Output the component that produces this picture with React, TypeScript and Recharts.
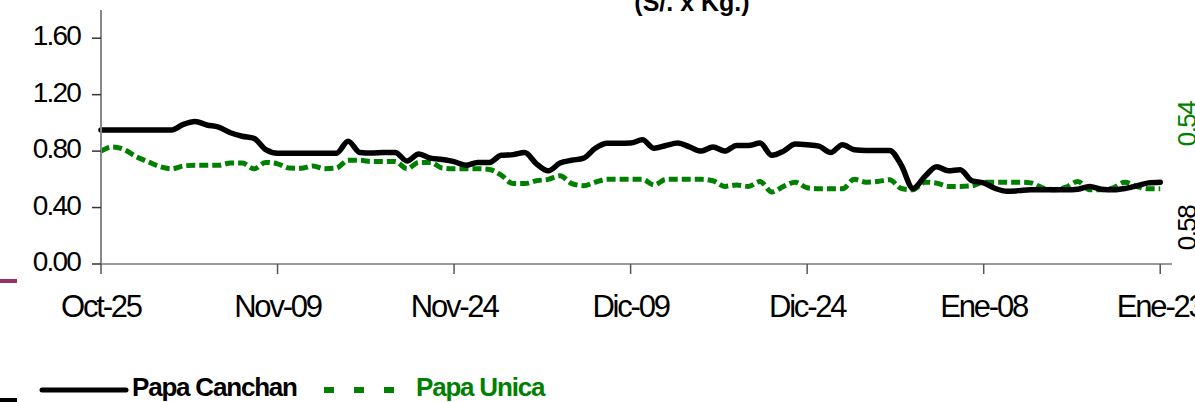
import { LineChart, Line, XAxis, YAxis } from "recharts";

const FONT = '"Liberation Sans", Arial, sans-serif';
const GREEN = "#008000";

// días desde Oct-25 (0) hasta Ene-23 (90), precio S/. x Kg.
const papaCanchan = [
  0.95, 0.95, 0.95, 0.95, 0.95, 0.95, 0.95, 0.99, 1.01, 0.985,
  0.97, 0.93, 0.905, 0.89, 0.81, 0.785, 0.785, 0.785, 0.785, 0.785,
  0.785, 0.87, 0.79, 0.786, 0.79, 0.79, 0.73, 0.78, 0.75, 0.74,
  0.725, 0.70, 0.72, 0.72, 0.77, 0.775, 0.79, 0.71, 0.66, 0.715,
  0.735, 0.75, 0.82, 0.855, 0.855, 0.857, 0.88, 0.82, 0.84, 0.857,
  0.83, 0.80, 0.83, 0.80, 0.84, 0.84, 0.857, 0.77, 0.80, 0.85,
  0.845, 0.835, 0.79, 0.845, 0.81, 0.805, 0.805, 0.805, 0.70, 0.535,
  0.62, 0.69, 0.66, 0.668, 0.59, 0.575, 0.535, 0.515, 0.52, 0.526,
  0.526, 0.526, 0.526, 0.53, 0.55, 0.53, 0.526, 0.535, 0.553, 0.575,
  0.58,
];

const papaUnica = [
  0.80, 0.83, 0.81, 0.76, 0.725, 0.69, 0.675, 0.695, 0.70, 0.70,
  0.70, 0.715, 0.715, 0.675, 0.72, 0.71, 0.68, 0.678, 0.695, 0.675,
  0.68, 0.735, 0.735, 0.726, 0.726, 0.726, 0.675, 0.72, 0.72, 0.68,
  0.675, 0.675, 0.675, 0.67, 0.63, 0.57, 0.57, 0.59, 0.60, 0.625,
  0.57, 0.555, 0.58, 0.60, 0.60, 0.60, 0.60, 0.56, 0.60, 0.60,
  0.60, 0.60, 0.59, 0.55, 0.56, 0.55, 0.585, 0.51, 0.55, 0.58,
  0.54, 0.533, 0.533, 0.533, 0.60, 0.58, 0.585, 0.597, 0.535, 0.526,
  0.58, 0.573, 0.55, 0.55, 0.554, 0.58, 0.58, 0.58, 0.58, 0.575,
  0.54, 0.526, 0.545, 0.585, 0.526, 0.526, 0.54, 0.58, 0.55, 0.533,
  0.533,
];

const tickDays = [0, 15, 30, 45, 60, 75, 90];
const tickLabels = ["Oct-25", "Nov-09", "Nov-24", "Dic-09", "Dic-24", "Ene-08", "Ene-23"];
const yTicks = [0, 0.4, 0.8, 1.2, 1.6];

const data = papaCanchan.map((v, i) => ({ dia: i, canchan: v, unica: papaUnica[i] }));

function XTick(props: any) {
  const { x, y, payload } = props;
  const label = tickLabels[tickDays.indexOf(payload.value)] ?? "";
  return (
    <text x={x} y={y} dy={43} textAnchor="middle" fontSize={31} fill="#000"
      style={{ fontFamily: FONT, letterSpacing: "-2.2px" }}>
      {label}
    </text>
  );
}

function YTick(props: any) {
  const { x, y, payload } = props;
  return (
    <text x={x} y={y} dy={7} textAnchor="end" fontSize={28} fill="#000"
      style={{ fontFamily: FONT, letterSpacing: "-1.8px" }}>
      {Number(payload.value).toFixed(2)}
    </text>
  );
}

export default function App() {
  return (
    <div style={{ position: "fixed", left: 0, top: 0, width: 1195, height: 402, background: "#fff", overflow: "hidden" }}>
      <LineChart width={1195} height={402} data={data}
        margin={{ top: 10, right: 23, bottom: 98, left: 0 }}>
        <XAxis dataKey="dia" type="number" domain={[0, 91]} ticks={tickDays}
          interval={0} height={40} tickSize={10} tickMargin={0}
          axisLine={{ stroke: "#777", strokeWidth: 1.5 }}
          tickLine={{ stroke: "#555", strokeWidth: 1.5 }}
          tick={<XTick />} />
        <YAxis type="number" domain={[0, 1.8]} ticks={yTicks} interval={0}
          width={101} tickSize={9} tickMargin={12}
          axisLine={{ stroke: "#888", strokeWidth: 2 }}
          tickLine={{ stroke: "#333", strokeWidth: 1.5 }}
          tick={<YTick />} />
        <Line type="monotone" dataKey="unica" stroke={GREEN} strokeWidth={5}
          strokeDasharray="9 4" dot={false} isAnimationActive={false} />
        <Line type="monotone" dataKey="canchan" stroke="#000" strokeWidth={5.5}
          strokeLinecap="round" strokeLinejoin="round" dot={false} isAnimationActive={false} />
      </LineChart>
      <svg width={1195} height={402} style={{ position: "absolute", left: 0, top: 0, pointerEvents: "none" }}>
        <text x={692} y={11} textAnchor="middle" fontSize={25} fontWeight="bold" fill="#000"
          style={{ fontFamily: FONT }}>(S/. x Kg.)</text>
        <text x={1196} y={124} textAnchor="middle" fontSize={26} fill={GREEN}
          transform="rotate(-90 1196 124)" style={{ fontFamily: FONT, letterSpacing: "-1.5px" }}>0.54</text>
        <text x={1196} y={228} textAnchor="middle" fontSize={26} fill="#000"
          transform="rotate(-90 1196 228)" style={{ fontFamily: FONT, letterSpacing: "-1.5px" }}>0.58</text>
        <rect x={0} y={279} width={17} height={4} fill="#993366" />
        <rect x={0} y={398} width={17} height={4} fill="#000" />
        <line x1={42} y1={390} x2={126} y2={390} stroke="#000" strokeWidth={5} strokeLinecap="round" />
        <text x={132} y={396} fontSize={26} fontWeight="bold" fill="#000"
          style={{ fontFamily: FONT, letterSpacing: "-1.2px" }}>Papa Canchan</text>
        <line x1={324} y1={390} x2={397} y2={390} stroke={GREEN} strokeWidth={6} strokeDasharray="10 20" />
        <text x={416} y={396} fontSize={26} fontWeight="bold" fill={GREEN}
          style={{ fontFamily: FONT, letterSpacing: "-1.2px" }}>Papa Unica</text>
      </svg>
    </div>
  );
}
